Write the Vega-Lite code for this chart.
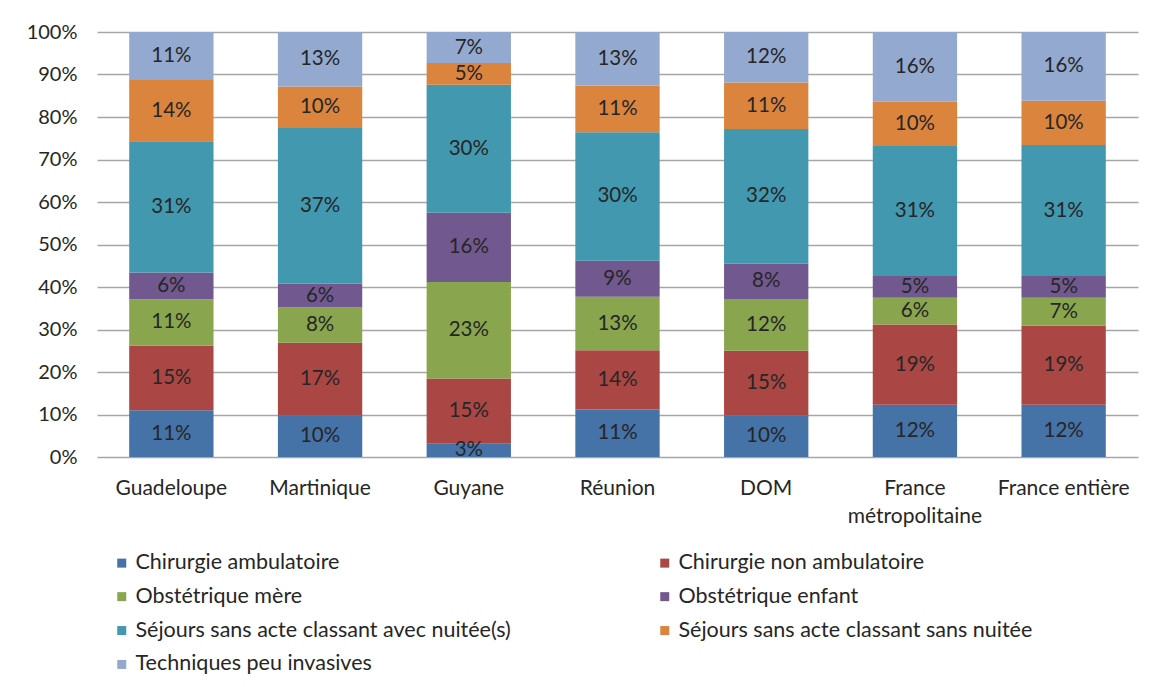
{
  "$schema": "https://vega.github.io/schema/vega-lite/v6.json",
  "width": 1041,
  "height": 425,
  "autosize": {"type": "none"},
  "padding": {"left": 97, "top": 32, "right": 20, "bottom": 230},
  "background": "white",
  "config": {
    "font": "Lato",
    "view": {"stroke": null},
    "axis": {"labelFont": "Lato", "labelColor": "#262626", "ticks": false, "domain": false, "title": null}
  },
  "data": {
    "values": [
      {"r": "Guadeloupe", "s": "Chirurgie ambulatoire", "o": 1, "v": 0.110},
      {"r": "Guadeloupe", "s": "Chirurgie non ambulatoire", "o": 2, "v": 0.152},
      {"r": "Guadeloupe", "s": "Obstétrique mère", "o": 3, "v": 0.109},
      {"r": "Guadeloupe", "s": "Obstétrique enfant", "o": 4, "v": 0.063},
      {"r": "Guadeloupe", "s": "Séjours sans acte classant avec nuitée(s)", "o": 5, "v": 0.309},
      {"r": "Guadeloupe", "s": "Séjours sans acte classant sans nuitée", "o": 6, "v": 0.144},
      {"r": "Guadeloupe", "s": "Techniques peu invasives", "o": 7, "v": 0.113},
      {"r": "Martinique", "s": "Chirurgie ambulatoire", "o": 1, "v": 0.097},
      {"r": "Martinique", "s": "Chirurgie non ambulatoire", "o": 2, "v": 0.172},
      {"r": "Martinique", "s": "Obstétrique mère", "o": 3, "v": 0.083},
      {"r": "Martinique", "s": "Obstétrique enfant", "o": 4, "v": 0.056},
      {"r": "Martinique", "s": "Séjours sans acte classant avec nuitée(s)", "o": 5, "v": 0.366},
      {"r": "Martinique", "s": "Séjours sans acte classant sans nuitée", "o": 6, "v": 0.098},
      {"r": "Martinique", "s": "Techniques peu invasives", "o": 7, "v": 0.128},
      {"r": "Guyane", "s": "Chirurgie ambulatoire", "o": 1, "v": 0.031},
      {"r": "Guyane", "s": "Chirurgie non ambulatoire", "o": 2, "v": 0.154},
      {"r": "Guyane", "s": "Obstétrique mère", "o": 3, "v": 0.227},
      {"r": "Guyane", "s": "Obstétrique enfant", "o": 4, "v": 0.163},
      {"r": "Guyane", "s": "Séjours sans acte classant avec nuitée(s)", "o": 5, "v": 0.301},
      {"r": "Guyane", "s": "Séjours sans acte classant sans nuitée", "o": 6, "v": 0.051},
      {"r": "Guyane", "s": "Techniques peu invasives", "o": 7, "v": 0.073},
      {"r": "Réunion", "s": "Chirurgie ambulatoire", "o": 1, "v": 0.112},
      {"r": "Réunion", "s": "Chirurgie non ambulatoire", "o": 2, "v": 0.139},
      {"r": "Réunion", "s": "Obstétrique mère", "o": 3, "v": 0.126},
      {"r": "Réunion", "s": "Obstétrique enfant", "o": 4, "v": 0.085},
      {"r": "Réunion", "s": "Séjours sans acte classant avec nuitée(s)", "o": 5, "v": 0.302},
      {"r": "Réunion", "s": "Séjours sans acte classant sans nuitée", "o": 6, "v": 0.110},
      {"r": "Réunion", "s": "Techniques peu invasives", "o": 7, "v": 0.126},
      {"r": "DOM", "s": "Chirurgie ambulatoire", "o": 1, "v": 0.098},
      {"r": "DOM", "s": "Chirurgie non ambulatoire", "o": 2, "v": 0.152},
      {"r": "DOM", "s": "Obstétrique mère", "o": 3, "v": 0.122},
      {"r": "DOM", "s": "Obstétrique enfant", "o": 4, "v": 0.083},
      {"r": "DOM", "s": "Séjours sans acte classant avec nuitée(s)", "o": 5, "v": 0.317},
      {"r": "DOM", "s": "Séjours sans acte classant sans nuitée", "o": 6, "v": 0.109},
      {"r": "DOM", "s": "Techniques peu invasives", "o": 7, "v": 0.119},
      {"r": "France métropolitaine", "s": "Chirurgie ambulatoire", "o": 1, "v": 0.123},
      {"r": "France métropolitaine", "s": "Chirurgie non ambulatoire", "o": 2, "v": 0.189},
      {"r": "France métropolitaine", "s": "Obstétrique mère", "o": 3, "v": 0.063},
      {"r": "France métropolitaine", "s": "Obstétrique enfant", "o": 4, "v": 0.051},
      {"r": "France métropolitaine", "s": "Séjours sans acte classant avec nuitée(s)", "o": 5, "v": 0.306},
      {"r": "France métropolitaine", "s": "Séjours sans acte classant sans nuitée", "o": 6, "v": 0.104},
      {"r": "France métropolitaine", "s": "Techniques peu invasives", "o": 7, "v": 0.164},
      {"r": "France entière", "s": "Chirurgie ambulatoire", "o": 1, "v": 0.123},
      {"r": "France entière", "s": "Chirurgie non ambulatoire", "o": 2, "v": 0.186},
      {"r": "France entière", "s": "Obstétrique mère", "o": 3, "v": 0.066},
      {"r": "France entière", "s": "Obstétrique enfant", "o": 4, "v": 0.051},
      {"r": "France entière", "s": "Séjours sans acte classant avec nuitée(s)", "o": 5, "v": 0.308},
      {"r": "France entière", "s": "Séjours sans acte classant sans nuitée", "o": 6, "v": 0.104},
      {"r": "France entière", "s": "Techniques peu invasives", "o": 7, "v": 0.162}
    ]
  },
  "transform": [
    {"stack": "v", "groupby": ["r"], "sort": [{"field": "o", "order": "ascending"}], "as": ["y0", "y1"]},
    {"calculate": "(datum.y0 + datum.y1) / 2", "as": "ym"}
  ],
  "encoding": {
    "x": {
      "field": "r", "type": "nominal",
      "sort": ["Guadeloupe", "Martinique", "Guyane", "Réunion", "DOM", "France métropolitaine", "France entière"],
      "scale": {"paddingInner": 0.433, "paddingOuter": 0.2165},
      "axis": {"labelAngle": 0, "labelPadding": 20, "labelFontSize": 21, "labelLineHeight": 28, "labelLimit": 300,
               "labelExpr": "datum.label == 'France métropolitaine' ? ['France', 'métropolitaine'] : datum.label"}
    }
  },
  "layer": [
    {
      "mark": {"type": "bar", "stroke": null},
      "encoding": {
        "y": {"field": "y0", "type": "quantitative", "scale": {"domain": [0, 1], "nice": false},
              "axis": {"format": ".0%", "values": [0, 0.1, 0.2, 0.3, 0.4, 0.5, 0.6, 0.7, 0.8, 0.9, 1], "grid": true, "gridColor": "#a6a6a6", "gridWidth": 1.3, "labelPadding": 20, "labelFontSize": 20}},
        "y2": {"field": "y1"},
        "color": {
          "field": "s", "type": "nominal",
          "scale": {
            "domain": ["Chirurgie ambulatoire", "Chirurgie non ambulatoire", "Obstétrique mère", "Obstétrique enfant", "Séjours sans acte classant avec nuitée(s)", "Séjours sans acte classant sans nuitée", "Techniques peu invasives"],
            "range": ["#4572A7", "#AA4643", "#89A54E", "#71588F", "#4198AF", "#DB843D", "#93A9CF"]
          },
          "legend": {
            "title": null, "orient": "none", "direction": "horizontal", "legendX": 14, "legendY": 520, "columns": 2, "columnPadding": 143,
            "rowPadding": 10.9, "padding": 0, "symbolType": "square", "symbolSize": 81, "symbolStrokeWidth": 0,
            "labelOffset": 3, "labelFont": "Lato", "labelFontSize": 21.5, "labelColor": "#262626", "labelLimit": 600
          }
        }
      }
    },
    {
      "mark": {"type": "text", "font": "Lato", "fontSize": 20.5, "color": "#262626", "baseline": "middle"},
      "encoding": {
        "y": {"field": "ym", "type": "quantitative"},
        "text": {"field": "v", "type": "quantitative", "format": ".0%"}
      }
    }
  ]
}
